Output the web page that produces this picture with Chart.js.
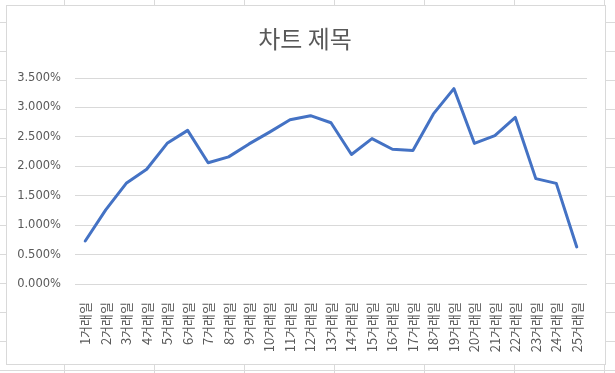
<!DOCTYPE html>
<html>
<head>
<meta charset="utf-8">
<script src="https://cdn.jsdelivr.net/npm/chart.js@4"></script>
<style>
  html, body { margin: 0; padding: 0; }
  body {
    width: 615px; height: 373px; overflow: hidden; position: relative;
    background-color: #ffffff;
    background-image:
      linear-gradient(to right, #dadada 1px, transparent 1px),
      linear-gradient(to bottom, #dadada 1px, transparent 1px);
    background-size: 90px 100%, 100% 29px;
    background-position: 64px 0, 0 22px;
  }
  #box {
    position: absolute; left: 6px; top: 5px;
    width: 598px; height: 358px;
    border: 1px solid #d9d9d9; background: #ffffff;
  }
  canvas { display: block; }
</style>
</head>
<body>
<div id="box"><canvas id="c" width="598" height="358"></canvas></div>
<script>
const chartTitle = '차트 제목';
const categories = ['1거래일','2거래일','3거래일','4거래일','5거래일','6거래일','7거래일','8거래일','9거래일','10거래일','11거래일','12거래일','13거래일','14거래일','15거래일','16거래일','17거래일','18거래일','19거래일','20거래일','21거래일','22거래일','23거래일','24거래일','25거래일'];
const seriesValues = [0.73, 1.26, 1.71, 1.95, 2.39, 2.61, 2.06, 2.16, 2.38, 2.58, 2.79, 2.86, 2.74, 2.20, 2.47, 2.29, 2.27, 2.89, 3.32, 2.39, 2.52, 2.83, 1.79, 1.71, 0.63];
const yTicks = { min: 0, max: 3.5, step: 0.5 };

const textColor = '#595959';
const gridColor = '#d9d9d9';

// Centre the title over the chart box rather than over the padded layout area
const titleShift = {
  id: 'titleShift',
  afterLayout(chart) {
    if (chart.titleBlock) { chart.titleBlock.left = 16; }
  }
};

new Chart(document.getElementById('c'), {
  type: 'line',
  data: {
    labels: categories,
    datasets: [{
      data: seriesValues,
      borderColor: '#4472C4',
      borderWidth: 3,
      pointRadius: 0,
      pointHoverRadius: 0,
      tension: 0,
      fill: false,
      borderCapStyle: 'round',
      borderJoinStyle: 'round'
    }]
  },
  plugins: [titleShift],
  options: {
    responsive: false,
    animation: false,
    devicePixelRatio: 1,
    layout: { padding: { left: 0, right: 18, top: 0, bottom: 0 } },
    plugins: {
      legend: { display: false },
      tooltip: { enabled: false },
      title: {
        display: true,
        text: chartTitle,
        color: textColor,
        font: { family: '"Noto Sans CJK KR", "Noto Sans", sans-serif', size: 24, weight: 'normal', lineHeight: 1.2 },
        padding: { top: 18, bottom: 25.2 }
      }
    },
    scales: {
      x: {
        offset: true,
        grid: { display: false },
        border: { display: false },
        ticks: {
          color: textColor,
          font: { family: '"Noto Sans CJK KR", sans-serif', size: 13 },
          minRotation: 90,
          maxRotation: 90,
          autoSkip: false,
          padding: 10
        },
        afterFit: (s) => { s.height = 80; }
      },
      y: {
        min: yTicks.min,
        max: yTicks.max,
        grid: { color: gridColor, lineWidth: 1, drawTicks: false },
        border: { display: false },
        ticks: {
          stepSize: yTicks.step,
          color: textColor,
          font: { family: '"DejaVu Sans", sans-serif', size: 11.5 },
          padding: 14,
          callback: (v) => v.toFixed(3) + '%'
        },
        afterFit: (s) => { s.width = 68; }
      }
    }
  }
});
</script>
</body>
</html>
